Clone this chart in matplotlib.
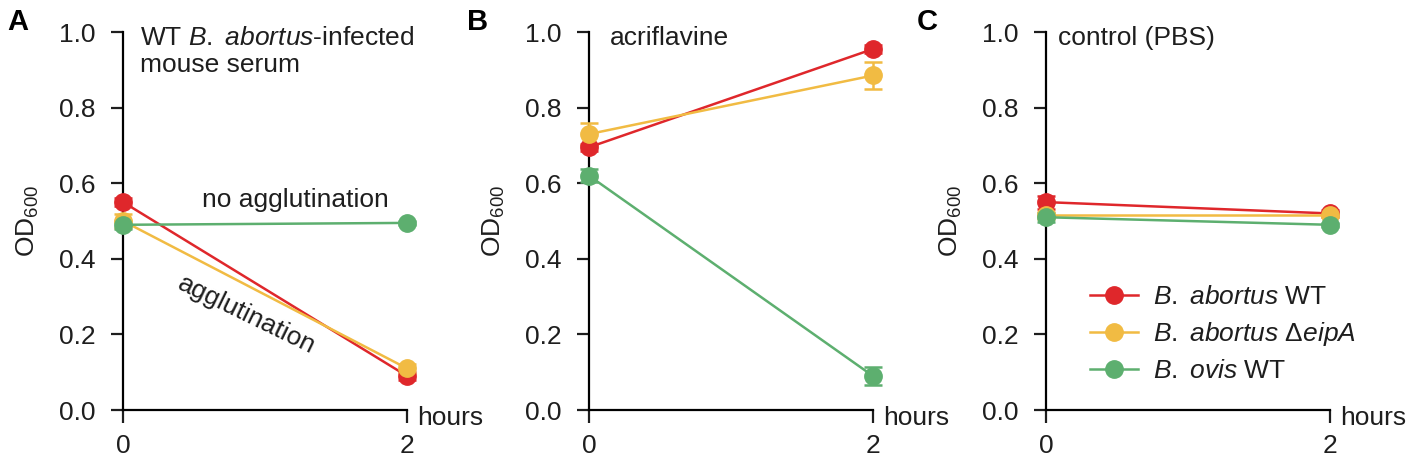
import numpy as np
import matplotlib.pyplot as plt
from matplotlib.lines import Line2D

plt.rcParams['font.family'] = ['Liberation Sans', 'DejaVu Sans']
plt.rcParams['mathtext.fontset'] = 'custom'
plt.rcParams['mathtext.rm'] = 'Liberation Sans'
plt.rcParams['mathtext.it'] = 'Liberation Sans:italic'
plt.rcParams['mathtext.bf'] = 'Liberation Sans:bold'

hours = [0, 2]
strains = ['$\\it{B.\\ abortus}$ WT', '$\\it{B.\\ abortus}$ Δ$\\it{eipA}$', '$\\it{B.\\ ovis}$ WT']
colors = ['#df272b', '#f1bb43', '#5daf6f']

# panel A: infected mouse serum
serum_mean = [[0.55, 0.09], [0.50, 0.11], [0.49, 0.495]]
serum_err = [[0.01, 0.01], [0.018, 0.012], [0.01, 0.005]]
# panel B: acriflavine
acri_mean = [[0.695, 0.955], [0.73, 0.885], [0.62, 0.09]]
acri_err = [[0.01, 0.01], [0.03, 0.036], [0.017, 0.025]]
# panel C: PBS control
pbs_mean = [[0.55, 0.52], [0.515, 0.515], [0.51, 0.49]]
pbs_err = [[0.017, 0.01], [0.01, 0.005], [0.012, 0.005]]

panels = [('A', serum_mean, serum_err), ('B', acri_mean, acri_err), ('C', pbs_mean, pbs_err)]
lefts = [0.0874, 0.4183, 0.7429]
letter_x = [0.005, 0.332, 0.651]
fs = 19
txt = '#1e1e1e'

fig = plt.figure(figsize=(14.08, 4.71), dpi=100)
axes = []
for (letter, means, errs), left, lx in zip(panels, lefts, letter_x):
    ax = fig.add_axes([left, 0.1295, 0.2017, 0.8025])
    for m, e, c, lab in zip(means, errs, colors, strains):
        ax.errorbar(hours, m, yerr=e, color=c, marker='o', markersize=12.5, lw=1.8,
                    capsize=6.5, capthick=1.8, elinewidth=1.8, label=lab, clip_on=False, zorder=3)
    ax.set_xlim(0, 2)
    ax.set_ylim(0, 1)
    ax.set_xticks([0, 2])
    ax.set_yticks([0, 0.2, 0.4, 0.6, 0.8, 1.0])
    ax.set_yticklabels(['0.0', '0.2', '0.4', '0.6', '0.8', '1.0'])
    ax.spines['top'].set_visible(False)
    ax.spines['right'].set_visible(False)
    ax.spines['left'].set_linewidth(1.6)
    ax.spines['bottom'].set_linewidth(1.6)
    ax.tick_params(direction='out', length=9, width=1.6, labelsize=fs, colors=txt)
    ax.tick_params(axis='y', pad=11)
    ax.tick_params(axis='x', pad=8)
    ax.set_ylabel('OD$_{600}$', fontsize=fs, color=txt)
    ax.yaxis.set_label_coords(-0.29, 0.5)
    ax.text(1.035, -0.02, 'hours', transform=ax.transAxes, fontsize=fs, va='center', ha='left', color=txt)
    fig.text(lx, 0.982, letter, fontsize=21, fontweight='bold', ha='left', va='top', color='black')
    axes.append(ax)

axA, axB, axC = axes
axA.text(0.06, 1.015, 'WT $\\it{B.\\ abortus}$-infected\nmouse serum', transform=axA.transAxes,
         fontsize=fs, va='top', ha='left', linespacing=1.15, color=txt)
axA.text(1.21, 0.555, 'no agglutination', fontsize=fs, ha='center', va='center', color=txt)
axA.text(0.87, 0.25, 'agglutination', fontsize=fs, ha='center', va='center', rotation=-26, color=txt)
axB.text(0.074, 1.015, 'acriflavine', transform=axB.transAxes, fontsize=fs, va='top', ha='left', color=txt)
axC.text(0.042, 1.015, 'control (PBS)', transform=axC.transAxes, fontsize=fs, va='top', ha='left', color=txt)

handles = [Line2D([], [], color=c, marker='o', markersize=12.5, lw=1.8) for c in colors]
axC.legend(handles, strains, loc='center left', bbox_to_anchor=(0.155, 0.20), frameon=False,
           fontsize=fs, handlelength=1.8, handletextpad=0.6, labelspacing=0.42,
           borderpad=0, borderaxespad=0, labelcolor=txt)

fig.savefig('out.png', dpi=100)
